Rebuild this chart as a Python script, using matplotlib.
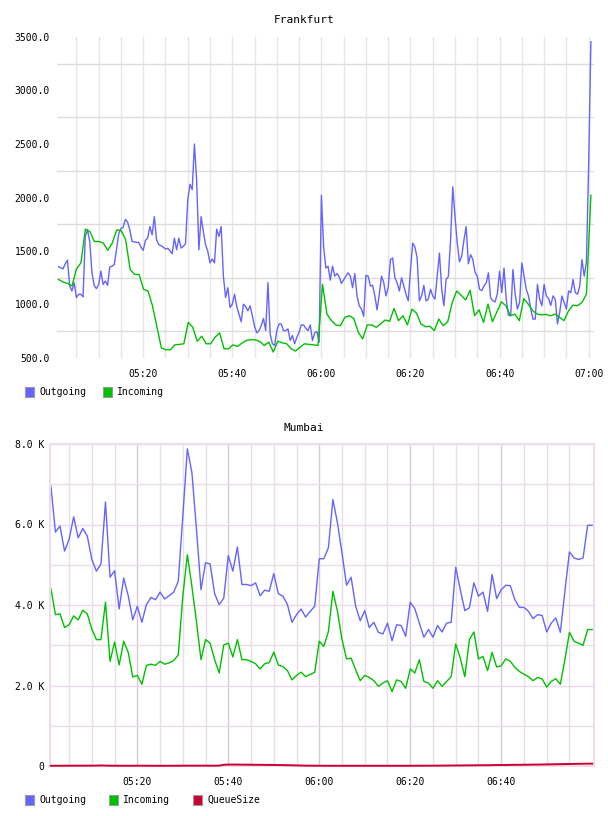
import numpy as np
import matplotlib
matplotlib.use("Agg")
import matplotlib.pyplot as plt
from matplotlib.patches import Rectangle
from matplotlib.ticker import FuncFormatter

plt.rcParams['font.family'] = ['DejaVu Sans Mono']

# ---- data (time = minutes after 05:00) ----
fra_out = [1352, 1343, 1333, 1380, 1414, 1173, 1126, 1204, 1065, 1096,
           1096, 1071, 1636, 1697, 1589, 1296, 1179, 1148, 1188, 1312,
           1188, 1219, 1179, 1352, 1358, 1373, 1512, 1660, 1710, 1722,
           1796, 1771, 1697, 1589, 1586, 1580, 1580, 1537, 1506, 1599,
           1620, 1728, 1651, 1821, 1605, 1559, 1549, 1537, 1518, 1525,
           1503, 1475, 1620, 1512, 1620, 1528, 1543, 1568, 1975, 2123,
           2074, 2500, 2160, 1512, 1821, 1682, 1559, 1497, 1389, 1426,
           1389, 1704, 1636, 1728, 1265, 1065, 1157, 972, 1003, 1096,
           981, 910, 839, 1003, 981, 941, 988, 895, 796, 735,
           756, 802, 870, 756, 1204, 725, 633, 617, 756, 818,
           818, 756, 756, 772, 664, 710, 633, 694, 741, 809,
           809, 778, 756, 809, 664, 735, 747, 648, 2021,
           1543, 1340, 1358, 1228, 1358, 1265, 1290, 1259, 1197, 1230,
           1265, 1296, 1265, 1157, 1290, 1080, 988, 957, 889, 1272,
           1265, 1173, 1179, 1080, 950, 1096, 1265, 1204, 1080, 1157,
           1420, 1435, 1250, 1204, 1126, 1250, 1173, 1096, 1034, 1321,
           1574, 1537, 1435, 1034, 1080, 1179, 1034, 1049, 1142, 1080,
           1050, 1265, 1481, 1150, 988, 1234, 1260, 1600, 2099, 1821,
           1574, 1400, 1451, 1600, 1728, 1380, 1466, 1420, 1300, 1265,
           1142, 1130, 1173, 1200, 1296, 1060, 1034, 1024, 1100, 1312,
           1111, 1340, 1049, 900, 895, 1327, 1100, 957, 1018, 1389,
           1265, 1140, 1080, 957, 864, 864, 1188, 1049, 988, 1188,
           1080, 1055, 991, 1080, 1049, 818, 926, 1080, 1018, 957,
           1126, 1111, 1234, 1111, 1096, 1173, 1420, 1265, 1400, 2300,
           3456]
fra_in = [1234, 1210, 1197, 1173, 1333, 1389, 1704, 1682, 1589, 1589,
          1574, 1506, 1574, 1697, 1691, 1605, 1327, 1281, 1281, 1142,
          1126, 988, 787, 593, 577, 577, 623, 627, 633, 833,
          787, 657, 704, 633, 633, 694, 735, 586, 586, 623,
          608, 639, 664, 670, 670, 654, 617, 648, 556, 657,
          642, 633, 586, 565, 602, 633, 627, 623, 617, 1188,
          910, 849, 809, 802, 880, 895, 870, 741, 679, 809,
          809, 787, 818, 855, 843, 963, 849, 895, 809, 957,
          920, 818, 793, 796, 756, 864, 802, 839, 1018, 1126,
          1086, 1043, 1133, 895, 950, 833, 1003, 839, 932, 1025,
          988, 895, 910, 849, 1055, 1003, 941, 910, 904, 907,
          895, 910, 880, 849, 941, 994, 988, 1018, 1096, 2021]

mum_out = [6.95, 5.81, 5.96, 5.34, 5.63, 6.19, 5.67, 5.90, 5.71, 5.13,
           4.84, 5.02, 6.56, 4.69, 4.85, 3.90, 4.67, 4.23, 3.63, 3.97,
           3.57, 4.01, 4.19, 4.13, 4.32, 4.15, 4.23, 4.32, 4.59, 6.21,
           7.88, 7.29, 5.88, 4.38, 5.05, 5.02, 4.28, 4.01, 4.17, 5.23,
           4.84, 5.44, 4.51, 4.51, 4.48, 4.55, 4.23, 4.37, 4.34, 4.78,
           4.28, 4.22, 4.01, 3.57, 3.76, 3.90, 3.70, 3.84, 3.97, 5.15,
           5.15, 5.42, 6.62, 6.04, 5.29, 4.49, 4.69, 3.97, 3.61, 3.86,
           3.44, 3.57, 3.32, 3.28, 3.55, 3.11, 3.51, 3.49, 3.22, 4.07,
           3.91, 3.55, 3.20, 3.39, 3.20, 3.49, 3.33, 3.55, 3.57, 4.94,
           4.38, 3.86, 3.93, 4.55, 4.22, 4.32, 3.84, 4.76, 4.16, 4.38,
           4.49, 4.48, 4.13, 3.94, 3.94, 3.84, 3.66, 3.76, 3.74, 3.33,
           3.55, 3.68, 3.32, 4.34, 5.32, 5.17, 5.13, 5.17, 5.98, 5.98]
mum_in = [4.40, 3.76, 3.78, 3.44, 3.51, 3.73, 3.63, 3.87, 3.78, 3.40,
          3.14, 3.14, 4.07, 2.60, 3.08, 2.51, 3.10, 2.82, 2.21, 2.25,
          2.03, 2.50, 2.53, 2.50, 2.60, 2.53, 2.56, 2.62, 2.76, 4.22,
          5.25, 4.46, 3.59, 2.64, 3.14, 3.05, 2.64, 2.31, 3.01, 3.05,
          2.71, 3.14, 2.64, 2.64, 2.60, 2.54, 2.41, 2.54, 2.57, 2.83,
          2.51, 2.47, 2.37, 2.14, 2.25, 2.33, 2.22, 2.27, 2.33, 3.10,
          2.97, 3.34, 4.34, 3.84, 3.14, 2.66, 2.68, 2.39, 2.12, 2.25,
          2.20, 2.12, 1.98, 2.06, 2.12, 1.85, 2.14, 2.10, 1.93, 2.41,
          2.31, 2.64, 2.10, 2.06, 1.93, 2.12, 1.98, 2.10, 2.22, 3.03,
          2.68, 2.22, 3.14, 3.33, 2.66, 2.72, 2.37, 2.82, 2.46, 2.49,
          2.66, 2.60, 2.45, 2.35, 2.28, 2.22, 2.12, 2.20, 2.16, 1.96,
          2.10, 2.17, 2.03, 2.64, 3.32, 3.10, 3.05, 3.00, 3.39, 3.39]
mum_queue = [6, 6, 7, 7, 8, 8, 8, 8, 9, 9,
             10, 14, 10, 8, 8, 7, 7, 6, 6, 8,
             8, 7, 6, 6, 6, 6, 6, 6, 7, 8,
             8, 8, 8, 8, 8, 8, 8, 9, 30, 36,
             36, 35, 34, 33, 32, 30, 30, 28, 27, 26,
             24, 22, 20, 18, 15, 12, 9, 8, 7, 7,
             6, 6, 6, 6, 6, 6, 6, 6, 6, 6,
             6, 6, 6, 6, 6, 6, 6, 6, 6, 6,
             7, 7, 7, 8, 8, 9, 10, 11, 12, 13,
             14, 15, 16, 17, 18, 19, 20, 22, 24, 25,
             26, 28, 29, 30, 32, 33, 35, 36, 38, 40,
             42, 44, 46, 48, 50, 52, 54, 56, 58, 58]

time_labels = ['05:20', '05:40', '06:00', '06:20', '06:40', '07:00']

C_OUT = '#6464ff'
C_IN = '#00c000'
C_Q = '#cc0033'

t_fo = 1.0 + 0.5 * np.arange(len(fra_out))
t_fi = np.linspace(1.0, 120.5, len(fra_in))
t_m = 1.0 + np.arange(len(mum_out))

W, H = 608, 816
fig = plt.figure(figsize=(W / 100, H / 100), dpi=100)


def box(l, t, r, b):
    return [l / W, 1 - b / H, (r - l) / W, (b - t) / H]


# ---------- Frankfurt ----------
ax1 = fig.add_axes(box(57, 37, 594, 358))
ax1.plot(t_fo, fra_out, color=C_OUT, lw=1.0)
ax1.plot(t_fi, fra_in, color=C_IN, lw=1.0)
ax1.set_xlim(0.65, 121.2)
ax1.set_ylim(500, 3500)
ax1.set_yticks(np.arange(500, 3501, 500))
ax1.yaxis.set_major_formatter(FuncFormatter(lambda v, p: '%.1f' % v))
ax1.set_yticks(np.arange(750, 3500, 500), minor=True)
ax1.set_xticks(np.arange(20, 121, 20))
ax1.set_xticklabels(time_labels)
ax1.set_xticks(np.arange(5, 121, 5), minor=True)
ax1.grid(which='minor', axis='y', color='#dcdcdc', lw=1)
ax1.grid(which='both', axis='x', color='#e6e6e6', lw=1)
ax1.tick_params(which='both', length=0, labelsize=7)
ax1.tick_params(axis='y', pad=5)
ax1.tick_params(axis='x', pad=8)
for s in ax1.spines.values():
    s.set_visible(False)
ax1.set_axisbelow(True)
fig.text(304 / W, 1 - 20 / H, 'Frankfurt', ha='center', va='center', fontsize=8)

# ---------- Mumbai ----------
ax2 = fig.add_axes(box(50, 444, 594, 766))
ax2.plot(t_m, mum_out, color=C_OUT, lw=1.0)
ax2.plot(t_m, mum_in, color=C_IN, lw=1.0)
ax2.plot(t_m, np.array(mum_queue) / 1000, color=C_Q, lw=1.4,
         clip_on=False, zorder=5)
ax2.set_xlim(0.8, 120.4)
ax2.set_ylim(0, 8)
ax2.set_yticks([0, 2, 4, 6, 8])
ax2.set_yticklabels(['0', '2.0 K', '4.0 K', '6.0 K', '8.0 K'])
ax2.set_yticks([1, 3, 5, 7], minor=True)
ax2.set_xticks(np.arange(20, 101, 20))
ax2.set_xticklabels(time_labels[:5])
ax2.set_xticks([m for m in range(5, 120, 5) if m % 20], minor=True)
ax2.grid(which='major', axis='x', color='#d9c8d9', lw=1)
ax2.grid(which='minor', axis='x', color='#e6e0e6', lw=1)
ax2.grid(which='major', axis='y', color='#eed8ee', lw=1)
ax2.grid(which='minor', axis='y', color='#e6e0e6', lw=1)
ax2.tick_params(which='both', length=0, labelsize=7)
ax2.tick_params(axis='y', pad=4)
ax2.tick_params(axis='x', pad=8)
for s in ax2.spines.values():
    s.set_color('#ecdcec')
    s.set_linewidth(1.5)
ax2.set_axisbelow(True)
fig.text(304 / W, 1 - 428 / H, 'Mumbai', ha='center', va='center', fontsize=8)


# ---------- legends ----------
def add_legend(y, items):
    for x, label, c in items:
        fig.patches.append(Rectangle((x / W, 1 - (y + 5) / H), 9 / W, 10 / H,
                                     transform=fig.transFigure, facecolor=c,
                                     edgecolor='#9a9a9a', lw=0.8))
        fig.text((x + 14) / W, 1 - y / H, label, va='center', fontsize=7)


add_legend(392, [(25, 'Outgoing', C_OUT), (103, 'Incoming', C_IN)])
add_legend(800, [(25, 'Outgoing', C_OUT), (109, 'Incoming', C_IN),
                 (193, 'QueueSize', C_Q)])

fig.savefig('out.png', dpi=100)
